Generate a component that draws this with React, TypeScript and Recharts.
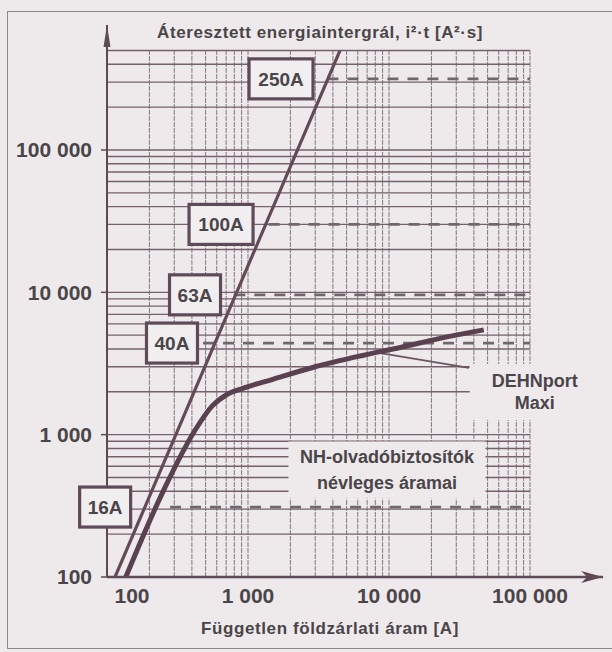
import React from 'react';
import { LineChart, Line, XAxis, YAxis, ReferenceLine, ReferenceDot } from 'recharts';

const BG = '#eeeaec';
const INK = '#4a4548';
const AXIS = '#5e4a55';
const HGRID = '#74616b';
const VGRID = '#8f8189';
const BOX = '#5f4b57';
const FONT = '"Liberation Sans", Arial, Helvetica, sans-serif';

// axes
const xDomain = [100, 100000];
const yDomain = [100, 500000];
const xTicks = [100, 1000, 10000, 100000];
const xTickLabels = ['100', '1 000', '10 000', '100 000'];
const yTicks = [100, 1000, 10000, 100000];
const yTickLabels = ['100', '1 000', '10 000', '100 000'];
const xArrowEnd = 330000;
const yArrowEnd = 755000;

// log grid
const mantissas = [1, 2, 3, 4, 5, 6, 7, 8, 9];
const xGridDecades = [100, 1000, 10000];
const yGridDecades = [100, 1000, 10000, 100000];
const xGrid = xGridDecades.flatMap((d) => mantissas.map((m) => m * d)).concat([100000]);
const yGrid = yGridDecades.flatMap((d) => mantissas.map((m) => m * d)).filter((v) => v <= 500000);

// steep straight line
const steepCurrent = [114, 4490];
const steepI2t = [100, 500000];

// DEHNport Maxi curve
const dehnCurrent = [136, 250, 420, 560, 700, 900, 1500, 3000, 6500, 12000, 23000, 47000];
const dehnI2t = [100, 400, 1070, 1600, 1900, 2100, 2450, 3000, 3600, 4100, 4750, 5450];

// leader line to the DEHNport label
const leaderCurrent = [8490, 36900];
const leaderI2t = [3750, 2945];

// NH fuse ratings
const fuseNames = ['16A', '40A', '63A', '100A', '250A'];
const fuseI2t = [310, 4400, 9600, 30000, 316000];
const fuseLineStart = [280, 480, 800, 1400, 3660];
const fuseLineEnd = 100000;
const fuseLabelCurrent = [97, 289, 421, 644, 1715];

// text annotations
const dehnLabelLines = ['DEHNport', 'Maxi'];
const dehnLabelCurrent = 108000;
const dehnLabelI2t = 1995;
const nhLabelLines = ['NH-olvadóbiztosítók', 'névleges áramai'];
const nhLabelCurrent = 9680;
const nhLabelI2t = 565;

const yTitle = 'Áteresztett energiaintergrál, i²·t [A²·s]';
const xTitle = 'Független földzárlati áram [A]';

const toPoints = (xs: number[], ys: number[]) => xs.map((x, i) => ({ x, y: ys[i] }));

const steepData = toPoints(steepCurrent, steepI2t);
const dehnData = toPoints(dehnCurrent, dehnI2t);
const leaderData = toPoints(leaderCurrent, leaderI2t);

const XTick = (props: any) => {
  const { x, y, payload, index } = props;
  const i = xTicks.indexOf(payload.value);
  return (
    <text x={x + (index === 0 ? 25 : 0)} y={y} dy="0.71em" textAnchor="middle" fontSize={21}
      fontWeight="bold" fill={INK} fontFamily={FONT}>
      {xTickLabels[i]}
    </text>
  );
};

const YTick = (props: any) => {
  const { x, y, payload } = props;
  const i = yTicks.indexOf(payload.value);
  return (
    <text x={x} y={y} dy="0.355em" textAnchor="end" fontSize={21} fontWeight="bold" fill={INK} fontFamily={FONT}>
      {yTickLabels[i]}
    </text>
  );
};

const FuseBox = ({ cx, cy, label }: any) => {
  const w = label.length * 13 + 12;
  const h = 40;
  return (
    <g>
      <rect x={cx - w / 2} y={cy - h / 2} width={w} height={h} fill="#f1eef0" stroke={BOX} strokeWidth={3.2} />
      <text x={cx} y={cy} dy="0.36em" textAnchor="middle" fontSize={19} fontWeight="bold" fill={INK} fontFamily={FONT}>
        {label}
      </text>
    </g>
  );
};

const TextBlock = ({ cx, cy, lines, w, h, lineGap }: any) => (
  <g>
    <rect x={cx - w / 2} y={cy - h / 2} width={w} height={h} fill={BG} />
    {lines.map((t: string, i: number) => (
      <text key={i} x={cx} y={cy + (i - (lines.length - 1) / 2) * lineGap} dy="0.36em" textAnchor="middle"
        fontSize={18} fontWeight="bold" fill={INK} fontFamily={FONT}>
        {t}
      </text>
    ))}
  </g>
);

const YTitle = (props: any) => {
  const vb = props.viewBox || {};
  return (
    <text x={vb.x + vb.width + 213} y={vb.y - 13} textAnchor="middle" fontSize={17} fontWeight="bold"
      fill={INK} fontFamily={FONT} letterSpacing={0.6}>
      {yTitle}
    </text>
  );
};

const XTitle = (props: any) => {
  const vb = props.viewBox || {};
  return (
    <text x={vb.x + 223} y={vb.y + 57} textAnchor="middle" fontSize={17} fontWeight="bold"
      fill={INK} fontFamily={FONT} letterSpacing={0.6}>
      {xTitle}
    </text>
  );
};

export default function App() {
  return (
    <div style={{ position: 'absolute', left: 0, top: 0, width: 612, height: 652, background: BG, overflow: 'hidden' }}>
      <div style={{ position: 'absolute', left: 7, top: 11, width: 640, height: 636, borderLeft: '1.5px solid #8d878a', borderTop: '1.5px solid #8d878a', borderBottom: '1.5px solid #8d878a' }} />
      <LineChart width={612} height={652} margin={{ top: 50.5, right: 82, bottom: 35, left: 8 }}>
        <XAxis type="number" dataKey="x" scale="log" domain={xDomain} ticks={xTicks} allowDataOverflow interval={0}
          height={40} axisLine={false} tickLine={false} tickSize={6} tickMargin={5} tick={(p: any) => <XTick {...p} />}
          label={{ content: (p: any) => <XTitle {...p} /> }} />
        <YAxis type="number" dataKey="y" scale="log" domain={yDomain} ticks={yTicks} allowDataOverflow interval={0}
          width={99} axisLine={false} tickLine={{ stroke: AXIS, strokeWidth: 1.5 }} tickSize={6} tickMargin={9}
          tick={(p: any) => <YTick {...p} />} label={{ content: (p: any) => <YTitle {...p} /> }} />

        {xGrid.map((v) => (
          <ReferenceLine key={'vx' + v} x={v} stroke={VGRID} strokeWidth={1.1} strokeDasharray="5 1" />
        ))}
        {yGrid.map((v) => (
          <ReferenceLine key={'hy' + v} y={v} stroke={HGRID} strokeWidth={1.4} />
        ))}

        <ReferenceDot x={nhLabelCurrent} y={nhLabelI2t} r={1} ifOverflow="visible"
          shape={(p: any) => <TextBlock cx={p.cx} cy={p.cy} lines={nhLabelLines} w={197} h={57} lineGap={26} />} />
        <ReferenceDot x={dehnLabelCurrent} y={dehnLabelI2t} r={1} ifOverflow="visible"
          shape={(p: any) => <TextBlock cx={p.cx} cy={p.cy} lines={dehnLabelLines} w={130} h={56} lineGap={22} />} />

        {fuseNames.map((n, i) => (
          <Line key={'fuse' + n} data={[{ x: fuseLineStart[i], y: fuseI2t[i] }, { x: fuseLineEnd, y: fuseI2t[i] }]}
            dataKey="y" type="linear" stroke="#6f676c" strokeWidth={2.8} strokeDasharray="11 9" dot={false}
            isAnimationActive={false} />
        ))}

        <Line data={steepData} dataKey="y" type="linear" stroke="#644a58" strokeWidth={3.2} dot={false} isAnimationActive={false} />
        <Line data={leaderData} dataKey="y" type="linear" stroke="#6a5560" strokeWidth={1.8} dot={false} isAnimationActive={false} />
        <Line data={dehnData} dataKey="y" type="monotone" stroke="#5a414f" strokeWidth={5} dot={false} isAnimationActive={false} />

        <ReferenceLine segment={[{ x: 100, y: 100 }, { x: xArrowEnd, y: 100 }]} stroke={AXIS} strokeWidth={2.5} ifOverflow="visible" />
        <ReferenceLine segment={[{ x: 100, y: 100 }, { x: 100, y: yArrowEnd }]} stroke={AXIS} strokeWidth={2} ifOverflow="visible" />
        <ReferenceDot x={xArrowEnd} y={100} r={1} ifOverflow="visible"
          shape={(p: any) => <polygon points={`${p.cx},${p.cy} ${p.cx - 22},${p.cy - 6} ${p.cx - 16},${p.cy} ${p.cx - 22},${p.cy + 6}`} fill={AXIS} />} />
        <ReferenceDot x={100} y={yArrowEnd} r={1} ifOverflow="visible"
          shape={(p: any) => <polygon points={`${p.cx},${p.cy} ${p.cx - 3.5},${p.cy + 22} ${p.cx + 3.5},${p.cy + 22}`} fill={AXIS} />} />

        {fuseNames.map((n, i) => (
          <ReferenceDot key={'box' + n} x={fuseLabelCurrent[i]} y={fuseI2t[i]} r={1} ifOverflow="visible"
            shape={(p: any) => <FuseBox cx={p.cx} cy={p.cy} label={n} />} />
        ))}
      </LineChart>
    </div>
  );
}
